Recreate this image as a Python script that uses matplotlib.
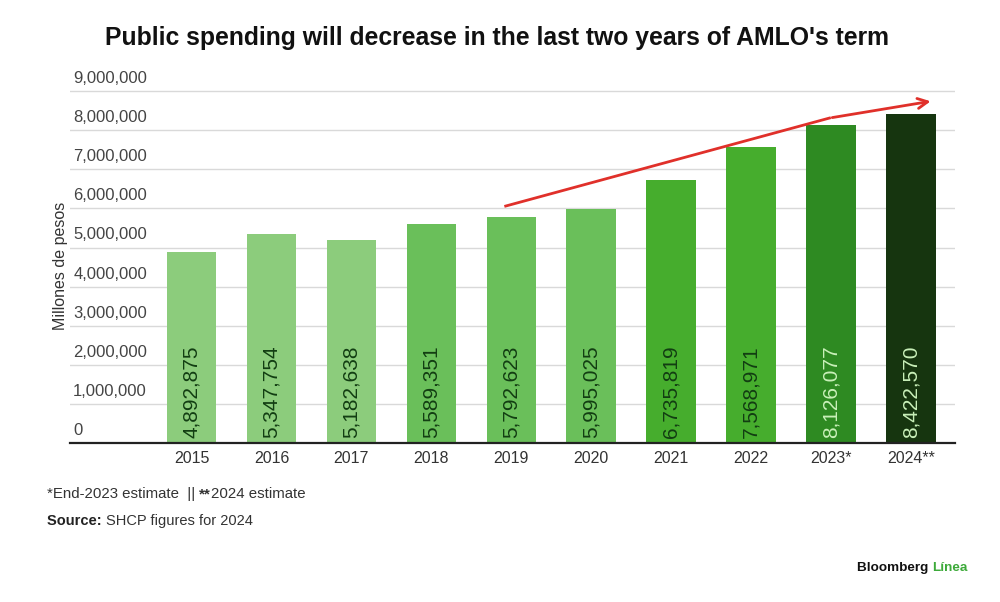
import matplotlib.pyplot as plt

# Data
years = ["2015", "2016", "2017", "2018", "2019", "2020", "2021", "2022", "2023*", "2024**"]
spending = [4892875, 5347754, 5182638, 5589351, 5792623, 5995025, 6735819, 7568971, 8126077, 8422570]
bar_colors = ["#8ccc7c", "#8ccc7c", "#8ccc7c", "#6abf5a", "#6abf5a", "#6abf5a",
              "#46ad2d", "#46ad2d", "#2e8a22", "#16350f"]
label_colors = ["#123d12"] * 8 + ["#c9f0b9", "#c9f0b9"]
yticks = [0, 1000000, 2000000, 3000000, 4000000, 5000000, 6000000, 7000000, 8000000, 9000000]

# trend arrow (x in bar index, y in pesos)
arrow_x = [3.93, 7.98, 9.28]
arrow_y = [6060000, 8310000, 8750000]

plt.rcParams["font.family"] = ["Liberation Sans", "DejaVu Sans"]

fig = plt.figure(figsize=(10, 6.02), dpi=100)
ax = fig.add_axes([0.07, 0.264, 0.885, 0.588])

x = list(range(len(years)))
ax.bar(x, spending, width=0.62, color=bar_colors, zorder=2)

for xi, v, c in zip(x, spending, label_colors):
    ax.text(xi, 120000, f"{v:,}", rotation=90, ha="center", va="bottom",
            fontsize=15, color=c, zorder=3)

ax.set_xlim(-1.52, 9.55)
ax.set_ylim(0, 9050000)
ax.set_yticks(yticks)
ax.set_yticklabels([])
ax.grid(axis="y", color="#d9d9d9", linewidth=1, zorder=0)
for t in yticks:
    ax.text(-1.48, t + 130000, f"{t:,}", ha="left", va="bottom", fontsize=12, color="#444444")

ax.set_xticks(x)
ax.set_xticklabels(years, fontsize=11.5, color="#333333")
ax.tick_params(axis="x", length=0, pad=6)
ax.tick_params(axis="y", length=0)
for s in ["top", "right", "left"]:
    ax.spines[s].set_visible(False)
ax.spines["bottom"].set_color("#222222")
ax.spines["bottom"].set_linewidth(1.6)

ax.set_ylabel("Millones de pesos", fontsize=11.5, color="#333333")
ax.yaxis.set_label_coords(-0.002, 0.5)

# red arrow
ax.plot(arrow_x[:2], arrow_y[:2], color="#e0302a", linewidth=2, zorder=4)
ax.annotate("", xy=(arrow_x[2], arrow_y[2]), xytext=(arrow_x[1], arrow_y[1]),
            arrowprops=dict(arrowstyle="->", color="#e0302a", lw=2, mutation_scale=18),
            zorder=4)

fig.text(0.497, 0.937, "Public spending will decrease in the last two years of AMLO's term",
         ha="center", va="center", fontsize=17.8, fontweight="bold", color="#111111")


def text_run(x0, y0, parts, size):
    # place pieces of text one after the other on one line
    renderer = fig.canvas.get_renderer()
    xpos = x0
    for s, weight, color in parts:
        t = fig.text(xpos, y0, s, ha="left", va="center", fontsize=size,
                     fontweight=weight, color=color)
        w = t.get_window_extent(renderer).width / fig.bbox.width
        xpos += w


text_run(0.047, 0.179, [("*End-2023 estimate  || ", "normal", "#333333"),
                        ("**", "bold", "#333333"),
                        ("2024 estimate", "normal", "#333333")], 10.8)
text_run(0.047, 0.134, [("Source: ", "bold", "#222222"),
                        ("SHCP figures for 2024", "normal", "#333333")], 10.5)
text_run(0.857, 0.057, [("Bloomberg ", "bold", "#111111"),
                        ("Línea", "bold", "#3daa3a")], 9.7)

fig.savefig("out.png", dpi=100, facecolor="white")
